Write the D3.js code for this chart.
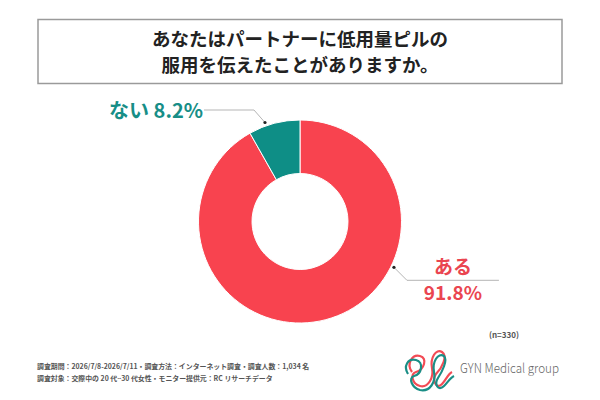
<!DOCTYPE html>
<html>
<head>
<meta charset="utf-8">
<script src="https://cdn.jsdelivr.net/npm/d3@7"></script>
<style>
  body { margin: 0; background: #fff; }
  text { font-family: 'Noto Sans CJK JP', 'Noto Sans', sans-serif; }
</style>
</head>
<body>
<div id="chart"></div>
<script>
// Datos del gráfico
const labels = ['ある', 'ない']
const values = [91.8, 8.2]
const colors = ['#F8434F', '#0E8E86']
const textColors = ['#EA4550', '#178E87']
const titleLines = ['あなたはパートナーに低用量ピルの', '服用を伝えたことがありますか。']
const notes = [
  '調査期間：2026/7/8-2026/7/11・調査方法：インターネット調査・調査人数：1,034 名',
  '調査対象：交際中の 20 代~30 代女性・モニター提供元：RC リサーチデータ'
]
const sampleSize = '(n=330)'

const width = 600
const height = 400

const svg = d3.select('#chart')
  .append('svg')
  .attr('width', width)
  .attr('height', height)

// Cuadro del título
svg.append('rect')
  .attr('x', 38).attr('y', 19.5)
  .attr('width', 524).attr('height', 64)
  .attr('fill', '#fff')
  .attr('stroke', '#9a9a9a')
  .attr('stroke-width', 1.5)

svg.selectAll('.title')
  .data(titleLines)
  .enter()
  .append('text')
  .attr('class', 'title')
  .attr('x', 300)
  .attr('y', (d, i) => 45.5 + i * 26)
  .attr('text-anchor', 'middle')
  .attr('font-size', 18.5)
  .attr('font-weight', 700)
  .attr('fill', '#222')
  .text(d => d)

// Donut
const cx = 300
const cy = 221.5
const outerR = 101.5
const innerR = 48

const pie = d3.pie().sort(null).value(d => d)
const arcs = pie(values)
const arc = d3.arc().innerRadius(innerR).outerRadius(outerR)

const gPie = svg.append('g')
  .attr('transform', `translate(${cx}, ${cy})`)

gPie.selectAll('path')
  .data(arcs)
  .enter()
  .append('path')
  .attr('d', arc)
  .attr('fill', (d, i) => colors[i])
  .attr('stroke', '#fff')
  .attr('stroke-width', 1)

// Líneas de las etiquetas (ángulo dentro de cada sector)
const labelPos = [
  { t: 0.351, r: 104.5, elbow: [13, 13], end: 105 },
  { t: 0.34, r: 105, elbow: [-11, -12.5], end: -61 }
]

function polar(a, r) {
  return [cx + r * Math.sin(a), cy - r * Math.cos(a)]
}

arcs.forEach((d, i) => {
  const p = labelPos[i]
  let a = d.startAngle + (d.endAngle - d.startAngle) * p.t
  const dot = polar(a, p.r)
  const elbow = [dot[0] + p.elbow[0], dot[1] + p.elbow[1]]
  const end = [dot[0] + p.end, elbow[1]]
  svg.append('polyline')
    .attr('points', [dot, elbow, end].map(q => q.join(',')).join(' '))
    .attr('fill', 'none')
    .attr('stroke', '#b5b5b5')
    .attr('stroke-width', 1)
  svg.append('circle')
    .attr('cx', dot[0]).attr('cy', dot[1])
    .attr('r', 1.6)
    .attr('fill', '#222')

  if (i === 0) {
    const mx = (elbow[0] + end[0]) / 2
    svg.append('text')
      .attr('x', mx).attr('y', elbow[1] - 6)
      .attr('text-anchor', 'middle')
      .attr('font-size', 19).attr('font-weight', 700)
      .attr('fill', textColors[i])
      .text(labels[i])
    svg.append('text')
      .attr('x', mx).attr('y', elbow[1] + 19.5)
      .attr('text-anchor', 'middle')
      .attr('font-size', 19).attr('font-weight', 700)
      .attr('fill', textColors[i])
      .text(values[i] + '%')
  } else {
    svg.append('text')
      .attr('x', end[0] - 1).attr('y', elbow[1] + 7.5)
      .attr('text-anchor', 'end')
      .attr('font-size', 20).attr('font-weight', 700)
      .attr('fill', textColors[i])
      .text(`${labels[i]} ${values[i]}%`)
  }
})

// n
svg.append('text')
  .attr('x', 504).attr('y', 338)
  .attr('text-anchor', 'middle')
  .attr('font-size', 8)
  .attr('font-weight', 700)
  .attr('fill', '#555')
  .text(sampleSize)

// Notas al pie
svg.selectAll('.note')
  .data(notes)
  .enter()
  .append('text')
  .attr('class', 'note')
  .attr('x', 37)
  .attr('y', (d, i) => 368.5 + i * 12.5)
  .attr('font-size', 6.9)
  .attr('font-weight', 700)
  .attr('fill', '#555')
  .text(d => d)

// Logo
const logo = svg.append('g').attr('transform', 'translate(404, 346)')
logo.append('path')
  .attr('d', 'M8 26 C2 18 8 8 16 10 C24 12 20 24 12 26 C6 28 8 38 16 40 C24 42 30 32 28 22 C26 12 32 2 38 6 C44 10 38 22 32 28 C28 34 32 44 38 38 C42 34 44 28 48 26')
  .attr('fill', 'none').attr('stroke', '#F24B55').attr('stroke-width', 2.2)
logo.append('path')
  .attr('d', 'M4 28 C-1 20 4 12 12 14 C20 16 18 28 10 30 C4 32 8 42 16 44 C26 46 32 36 30 26 C28 16 34 6 40 10 C44 14 38 26 34 32 C30 38 34 46 40 40 C44 36 46 32 50 30')
  .attr('fill', 'none').attr('stroke', '#1A8E86').attr('stroke-width', 2.2)

svg.append('text')
  .attr('x', 460).attr('y', 373)
  .attr('font-family', 'Lato, sans-serif')
  .attr('font-size', 13)
  .attr('font-weight', 300)
  .attr('textLength', 99)
  .attr('lengthAdjust', 'spacingAndGlyphs')
  .attr('fill', '#666')
  .text('GYN Medical group')
</script>
</body>
</html>
